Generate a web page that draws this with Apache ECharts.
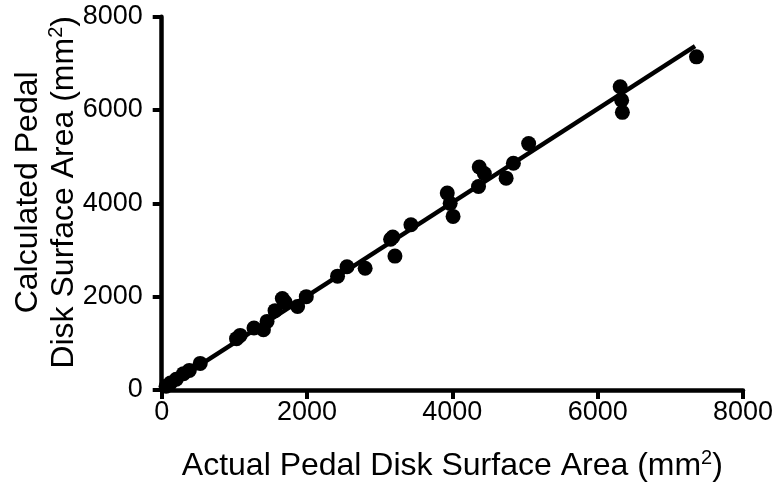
<!DOCTYPE html>
<html>
<head>
<meta charset="utf-8">
<script src="https://cdn.jsdelivr.net/npm/echarts@6/dist/echarts.min.js"></script>
<style>
  html, body { margin: 0; padding: 0; background: #fff; }
  #chart { width: 783px; height: 491px; }
</style>
</head>
<body>
<div id="chart"></div>
<script>
// Measured pedal disk surface areas (mm^2) and the areas calculated from them
const actualArea = [60, 120, 200, 300, 380, 530, 1030, 1080, 1270, 1400, 1450, 1560, 1660, 1700, 1870, 1990,
  2420, 2550, 2800, 3150, 3180, 3210, 3430, 3930, 3970, 4010, 4370, 4440, 4360, 4740, 4840, 5050,
  6310, 6330, 6340, 7360];
const calculatedArea = [80, 150, 230, 350, 420, 570, 1100, 1170, 1330, 1290, 1470, 1700, 1960, 1880, 1790, 2000,
  2440, 2640, 2610, 3230, 3280, 2870, 3540, 4220, 4000, 3720, 4780, 4640, 4360, 4540, 4860, 5280,
  6500, 6210, 5950, 7140];

// Endpoints of the fitted regression line
const fitX = [0, 7340];
const fitY = [10, 7370];

const axisTicks = [0, 2000, 4000, 6000, 8000];

const points = actualArea.map((x, i) => [x, calculatedArea[i]]);
const fitLine = fitX.map((x, i) => [x, fitY[i]]);

const font = '"Liberation Sans", Arial, Helvetica, sans-serif';
const axisCommon = {
  type: 'value',
  min: axisTicks[0],
  max: axisTicks[axisTicks.length - 1],
  interval: axisTicks[1] - axisTicks[0],
  splitLine: { show: false },
  axisLine: { show: true, lineStyle: { color: '#000', width: 4.5 } },
  axisTick: { show: true, length: 9, lineStyle: { color: '#000', width: 4 } },
  axisLabel: { color: '#000', fontSize: 27, fontFamily: font, formatter: v => String(v) }
};

const titleRich = {
  a: { fontSize: 32, fontFamily: font, color: '#000', lineHeight: 36 },
  s: { fontSize: 20, fontFamily: font, color: '#000', lineHeight: 36, padding: [0, 0, 15, 0] }
};

const chart = echarts.init(document.getElementById('chart'), null, { renderer: 'canvas' });
chart.setOption({
  backgroundColor: '#fff',
  animation: false,
  grid: { left: 161.7, right: 40, top: 16.7, bottom: 101, containLabel: false, outerBoundsMode: 'none' },
  xAxis: Object.assign({}, axisCommon, {
    axisLabel: Object.assign({}, axisCommon.axisLabel, { margin: 9 }),
    name: '{a|Actual Pedal Disk Surface Area (mm}{s|2}{a|)}',
    nameLocation: 'middle',
    nameGap: 58,
    nameTextStyle: { rich: titleRich }
  }),
  yAxis: Object.assign({}, axisCommon, {
    axisLabel: Object.assign({}, axisCommon.axisLabel, { margin: 19 }),
    name: '{a|Calculated Pedal}\n{a|Disk Surface Area (mm}{s|2}{a|)}',
    nameLocation: 'middle',
    nameRotate: 90,
    nameGap: 80,
    nameMoveOverlap: false,
    nameTextStyle: { rich: titleRich, padding: [0, 0, 0, 22] }
  }),
  series: [
    {
      type: 'line',
      data: fitLine,
      showSymbol: false,
      symbol: 'none',
      lineStyle: { color: '#000', width: 4.5 },
      z: 2
    },
    {
      type: 'scatter',
      data: points,
      symbol: 'circle',
      symbolSize: 15,
      itemStyle: { color: '#000', opacity: 1 },
      z: 3
    }
  ]
});
</script>
</body>
</html>
